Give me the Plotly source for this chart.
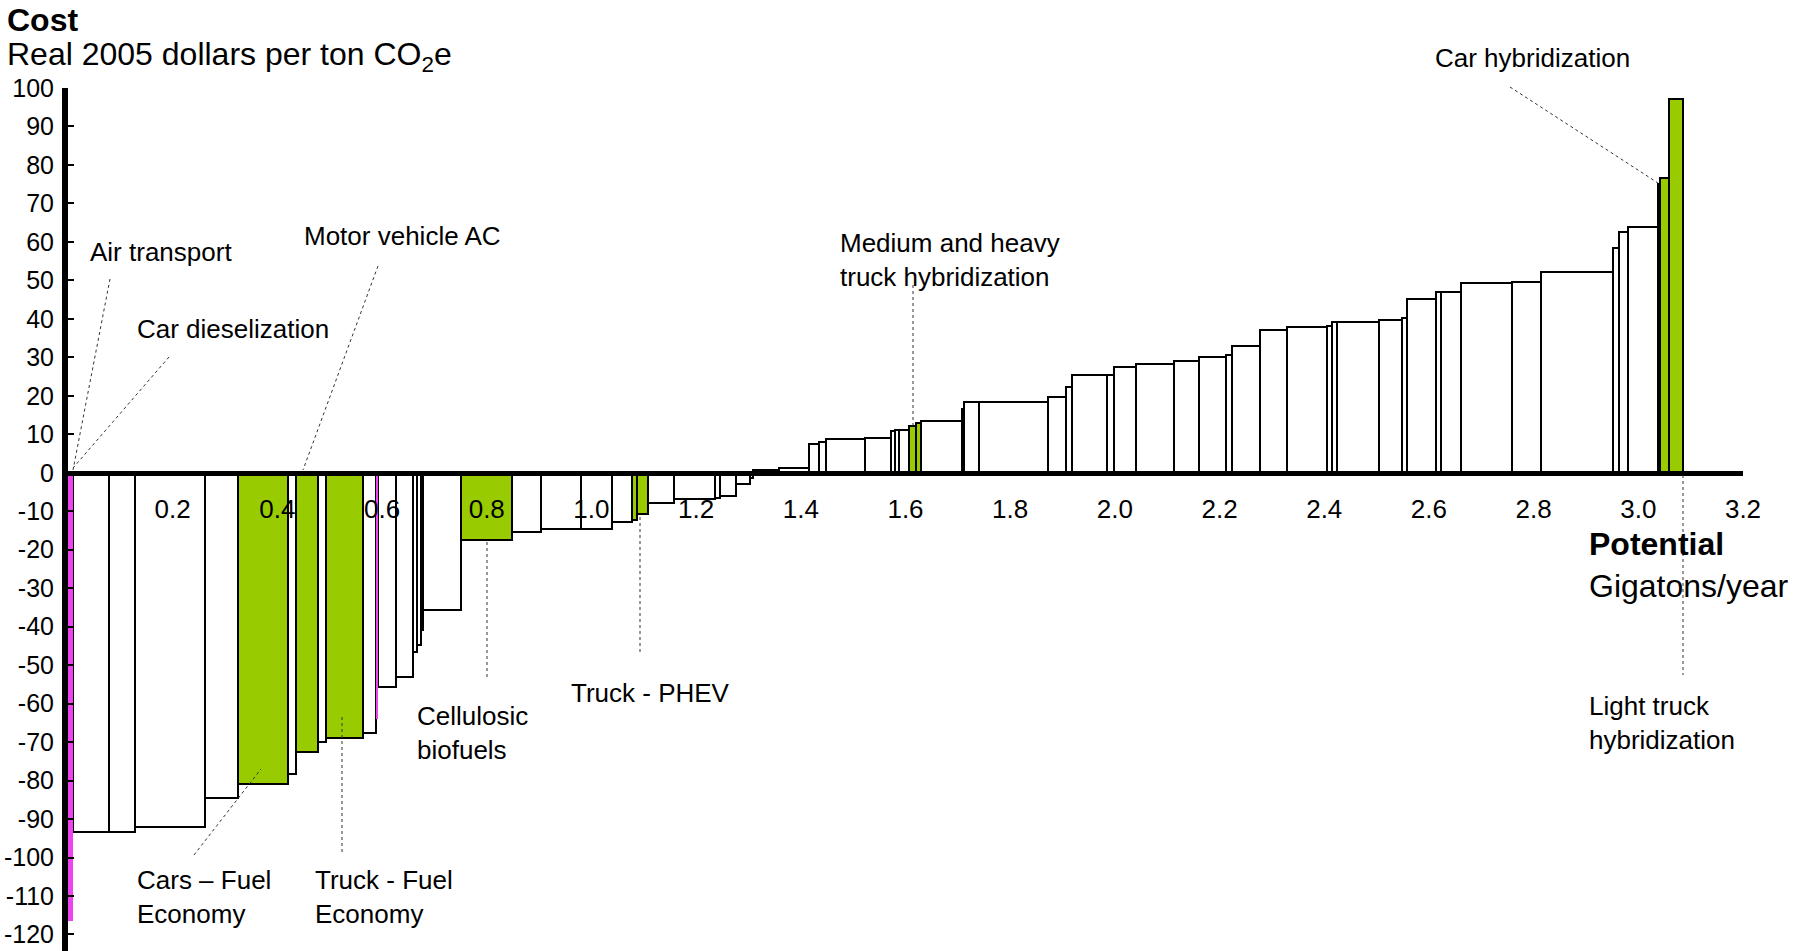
import plotly.graph_objects as go

# ---------------- data ----------------
potential = [0.010, 0.069, 0.049, 0.134, 0.063, 0.096, 0.015, 0.042, 0.015, 0.070,
             0.025, 0.004, 0.034, 0.033, 0.007, 0.008, 0.004, 0.072, 0.098, 0.055,
             0.078, 0.058, 0.039, 0.009, 0.022, 0.049, 0.078, 0.010, 0.030, 0.026,
             0.006, 0.051, 0.057, 0.019, 0.013, 0.075, 0.049, 0.007, 0.009, 0.019,
             0.013, 0.010, 0.078, 0.003, 0.030, 0.132, 0.034, 0.012, 0.066, 0.013,
             0.042, 0.073, 0.048, 0.051, 0.011, 0.055, 0.050, 0.078, 0.008, 0.010,
             0.081, 0.043, 0.011, 0.055, 0.009, 0.039, 0.096, 0.056, 0.138, 0.012,
             0.017, 0.057, 0.004, 0.016, 0.028]
cost = [-116.5, -93.3, -93.3, -92.2, -84.6, -81.0, -78.4, -72.7, -70.1, -69.0,
        -67.6, -64.1, -55.6, -53.2, -46.5, -44.8, -40.8, -35.7, -17.6, -15.5,
        -14.6, -14.6, -12.9, -12.3, -10.8, -7.8, -6.8, -6.6, -6.1, -2.9,
        -1.3, 0.8, 1.2, 7.6, 8.1, 8.8, 9.0, 10.9, 11.2, 11.2,
        12.2, 12.9, 13.4, 16.7, 18.3, 18.3, 19.8, 22.3, 25.5, 25.5,
        27.6, 28.3, 29.0, 30.2, 30.6, 33.0, 37.2, 37.9, 38.1, 39.2,
        39.2, 39.7, 40.3, 45.2, 47.0, 47.0, 49.4, 49.6, 52.3, 58.5,
        62.6, 63.9, 75.0, 76.5, 97.1]
# 'h' = highlighted transport lever (green), 'p' = pink, 'o' = other
group = ['p', 'o', 'o', 'o', 'o', 'h', 'o', 'h', 'o', 'h',
         'o', 'p', 'o', 'o', 'o', 'o', 'o', 'o', 'h', 'o',
         'o', 'o', 'o', 'h', 'h', 'o', 'o', 'o', 'o', 'o',
         'o', 'o', 'o', 'o', 'o', 'o', 'o', 'o', 'o', 'o',
         'h', 'h', 'o', 'o', 'o', 'o', 'o', 'o', 'o', 'o',
         'o', 'o', 'o', 'o', 'o', 'o', 'o', 'o', 'o', 'o',
         'o', 'o', 'o', 'o', 'o', 'o', 'o', 'o', 'o', 'o',
         'o', 'o', 'o', 'h', 'h']

x_ticks = [0.2, 0.4, 0.6, 0.8, 1.0, 1.2, 1.4, 1.6, 1.8, 2.0, 2.2, 2.4, 2.6, 2.8, 3.0, 3.2]
x_ticktext = ["0.2", "0.4", "0.6", "0.8", "1.0", "1.2", "1.4", "1.6", "1.8", "2.0",
              "2.2", "2.4", "2.6", "2.8", "3.0", "3.2"]
y_ticks = [100, 90, 80, 70, 60, 50, 40, 30, 20, 10, 0, -10, -20, -30, -40, -50,
           -60, -70, -80, -90, -100, -110, -120]
y_ticktext = ["100", "90", "80", "70", "60", "50", "40", "30", "20", "10", "0", "-10",
              "-20", "-30", "-40", "-50", "-60", "-70", "-80", "-90", "-100", "-110", "-120"]

# ---------------- layout constants ----------------
W, H = 1803, 951
ML, MR, MT, MB = 68, 60, 88, 0
PW, PH = W - ML - MR, H - MT - MB
Y_MIN, Y_MAX = -124.3, 100
FONT = "Liberation Sans, Arial, sans-serif"

fill_map = {'h': '#99CC00', 'p': '#EE44EE', 'o': '#FFFFFF'}
line_map = {'h': '#000000', 'p': '#EE44EE', 'o': '#000000'}
line_w = {'h': 2, 'p': 0, 'o': 2}

lefts = []
acc = 0.0
for w in potential:
    lefts.append(acc)
    acc += w
centers = [l + w / 2 for l, w in zip(lefts, potential)]

fig = go.Figure()
for key in ['o', 'h', 'p']:
    idx = [i for i, g in enumerate(group) if g == key]
    fig.add_trace(go.Bar(
        x=[centers[i] for i in idx],
        y=[cost[i] for i in idx],
        width=[potential[i] for i in idx],
        marker=dict(color=fill_map[key], line=dict(color=line_map[key], width=line_w[key])),
        showlegend=False, hoverinfo='x+y'))


def px(xp):
    return (xp - ML) / PW


def py(yp):
    return (H - MB - yp) / PH


annotations = []


def label(text, x, y, size=26, bold=False, anchor='left'):
    if bold:
        text = "<b>" + text + "</b>"
    annotations.append(dict(text=text, x=px(x), y=py(y), xref='paper', yref='paper',
                            xanchor=anchor, yanchor='middle', showarrow=False,
                            align='left', font=dict(size=size, color='black', family=FONT)))


label("Cost", 5, 20, size=32, bold=True)
label("Real 2005 dollars per ton CO<sub>2</sub>e", 5, 56, size=32)
label("Air transport", 88, 252)
label("Car dieselization", 135, 329)
label("Motor vehicle AC", 302, 236)
label("Medium and heavy<br>truck hybridization", 838, 260)
label("Car hybridization", 1433, 58)
label("<b>Potential</b><br>Gigatons/year", 1587, 565, size=32)
label("Light truck<br>hybridization", 1587, 723)
label("Cars \u2013 Fuel<br>Economy", 135, 897)
label("Truck - Fuel<br>Economy", 313, 897)
label("Cellulosic<br>biofuels", 415, 733)
label("Truck - PHEV", 569, 693)

shapes = []


def dotted(x0, y0, x1, y1):
    shapes.append(dict(type='line', xref='paper', yref='paper',
                       x0=px(x0), y0=py(y0), x1=px(x1), y1=py(y1),
                       line=dict(color='#333333', width=1, dash='dot')))


dotted(110, 279, 73, 470)
dotted(169, 357, 73, 468)
dotted(378, 266, 303, 470)
dotted(913, 285, 913, 427)
dotted(1510, 87, 1658, 183)
dotted(1683, 475, 1683, 675)
dotted(194, 855, 261, 769)
dotted(342, 717, 342, 855)
dotted(487, 542, 487, 678)
dotted(640, 517, 640, 655)

zero_pos = (0 - Y_MIN) / (Y_MAX - Y_MIN)

fig.update_layout(
    width=W, height=H,
    margin=dict(l=ML, r=MR, t=MT, b=MB, pad=0, autoexpand=False),
    paper_bgcolor='white', plot_bgcolor='white',
    bargap=0, barmode='overlay',
    font=dict(family=FONT, size=26, color='black'),
    annotations=annotations, shapes=shapes,
    xaxis=dict(range=[0, 3.2], anchor='free', position=zero_pos, automargin=False,
               showline=True, linewidth=5, linecolor='black',
               showgrid=False, zeroline=False,
               tickvals=x_ticks, ticktext=x_ticktext, ticks='',
               ticklabelstandoff=11,
               tickfont=dict(size=26, family=FONT, color='black')),
    yaxis=dict(range=[Y_MIN, Y_MAX], automargin=False,
               showline=True, linewidth=6, linecolor='black',
               showgrid=False, zeroline=False,
               tickvals=y_ticks, ticktext=y_ticktext,
               ticks='inside', ticklen=6, tickwidth=2, tickcolor='black',
               ticklabelstandoff=3,
               tickfont=dict(size=25, family=FONT, color='black')),
)

fig.write_html("out.html", config={'displayModeBar': False},
               post_script="document.body.style.margin='0';document.body.style.overflow='hidden';")
